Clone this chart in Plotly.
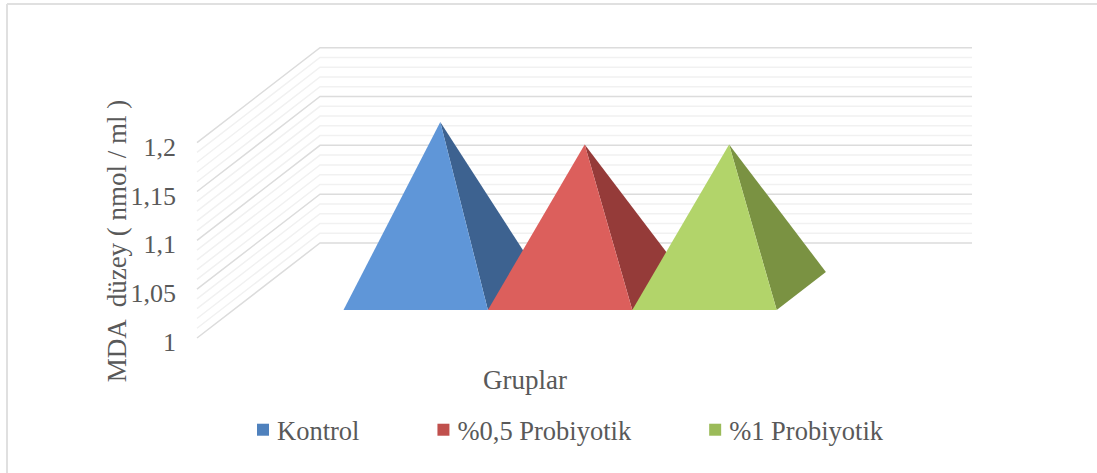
import plotly.graph_objects as go

# ---- data ----
categories = ["Kontrol", "%0,5 Probiyotik", "%1 Probiyotik"]
values = [1.173, 1.15, 1.15]
y_ticks = [1.0, 1.05, 1.1, 1.15, 1.2]
y_tick_labels = ["1", "1,05", "1,1", "1,15", "1,2"]
minor_steps = [1.01, 1.02, 1.03, 1.04, 1.06, 1.07, 1.08, 1.09, 1.11, 1.12, 1.13, 1.14,
               1.16, 1.17, 1.18, 1.19]
front_colors = ["#5f96d8", "#dc5f5c", "#b2d46a"]
side_colors = ["#3d6290", "#953b39", "#7a9242"]
legend_colors = ["#4f81bd", "#c0504d", "#9bbb59"]

# ---- oblique projection, expressed in axis units ----
W, H = 1097, 473
L, R, T, B = 177, 112, 30, 123
PLOT_W, PLOT_H = W - L - R, H - T - B
PX_PER_CAT = 144.4
PX_PER_VAL = 976.5
X0_PX = 307.2
Y1_PX = 338.0
x_range = [(L - X0_PX) / PX_PER_CAT, (W - R - X0_PX) / PX_PER_CAT]
y_range = [1 + (Y1_PX - (H - B)) / PX_PER_VAL, 1 + (Y1_PX - T) / PX_PER_VAL]
DEPTH_X = 123 / PX_PER_CAT
DEPTH_Y = 95 / PX_PER_VAL
WALL_LEFT = (197 - X0_PX) / PX_PER_CAT
WALL_RIGHT = (972 - X0_PX) / PX_PER_CAT
BASE_DEPTH = 0.295
PYR_DEPTH = 0.40


def project(u, v, d):
    return u + d * DEPTH_X, v + d * DEPTH_Y


def gridline(v, color, width):
    a = project(WALL_LEFT, v, 0)
    b = project(WALL_LEFT, v, 1)
    c = project(WALL_RIGHT - DEPTH_X, v, 1)
    return go.Scatter(x=[a[0], b[0], c[0]], y=[a[1], b[1], c[1]], mode="lines",
                      line=dict(color=color, width=width), showlegend=False, hoverinfo="skip")


fig = go.Figure()
for v in minor_steps:
    fig.add_trace(gridline(v, "#f1f1f1", 1.5))
for v in y_ticks:
    fig.add_trace(gridline(v, "#dcdcdc", 1.5))

for i, val in enumerate(values):
    fl = project(i, 1, BASE_DEPTH)
    fr = project(i + 1, 1, BASE_DEPTH)
    br = project(i + 1, 1, BASE_DEPTH + PYR_DEPTH)
    apex = project(i + 0.5, val, BASE_DEPTH + PYR_DEPTH / 2)
    fig.add_trace(go.Scatter(x=[apex[0], fr[0], br[0], apex[0]], y=[apex[1], fr[1], br[1], apex[1]],
                             mode="lines", fill="toself", fillcolor=side_colors[i],
                             line=dict(width=0, color=side_colors[i]), showlegend=False,
                             hoverinfo="skip"))
    fig.add_trace(go.Scatter(x=[fl[0], fr[0], apex[0], fl[0]], y=[fl[1], fr[1], apex[1], fl[1]],
                             mode="lines", fill="toself", fillcolor=front_colors[i],
                             line=dict(width=0, color=front_colors[i]), showlegend=False,
                             name=categories[i]))

pad = ["\u00a0" * 8, "\u00a0" * 8, ""]
for i, c in enumerate(categories):
    fig.add_trace(go.Scatter(x=[None], y=[None], mode="markers", name=c + pad[i],
                             marker=dict(symbol="square", size=12, color=legend_colors[i])))

# Empty trace on a second pair of axes: they carry the two axis titles, which the
# reference centres on the whole chart's inner panel rather than on the wall area.
fig.add_trace(go.Scatter(x=[None], y=[None], xaxis="x2", yaxis="y2", showlegend=False,
                         hoverinfo="skip"))

FONT = "Liberation Serif"
GREY = "#595959"
fig.update_layout(
    width=W, height=H, autosize=False,
    margin=dict(l=L, r=R, t=T, b=B, autoexpand=False),
    paper_bgcolor="white", plot_bgcolor="rgba(0,0,0,0)",
    font=dict(family=FONT, color=GREY, size=26),
    xaxis=dict(range=x_range, showgrid=False, zeroline=False, showticklabels=False, ticks=""),
    yaxis=dict(range=y_range, showgrid=False, zeroline=False, tickmode="array",
               tickvals=y_ticks, ticktext=y_tick_labels, ticks="", ticklabelshift=4,
               tickfont=dict(size=26, family=FONT, color=GREY)),
    xaxis2=dict(domain=[0, 696 / PLOT_W], anchor="y2", showgrid=False, zeroline=False,
                showticklabels=False, ticks="",
                title=dict(text="Gruplar", standoff=20, font=dict(size=27, family=FONT, color=GREY))),
    yaxis2=dict(domain=[0, 218 / PLOT_H], anchor="x2", showgrid=False, zeroline=False,
                showticklabels=False, ticks="",
                title=dict(text="MDA  düzey ( nmol / ml )", standoff=41,
                           font=dict(size=27, family=FONT, color=GREY))),
    legend=dict(orientation="h", x=237 / W, xref="container", xanchor="left",
                y=1 - 430 / H, yref="container", yanchor="middle",
                font=dict(size=26.5, family=FONT, color=GREY), itemwidth=30),
    showlegend=True,
    shapes=[
        dict(type="line", xref="paper", yref="paper", layer="below",
             x0=(7 - L) / PLOT_W, x1=(W - L) / PLOT_W,
             y0=(PLOT_H + T - 4) / PLOT_H, y1=(PLOT_H + T - 4) / PLOT_H,
             line=dict(color="#e0e0e0", width=2)),
        dict(type="line", xref="paper", yref="paper", layer="below",
             x0=(7 - L) / PLOT_W, x1=(7 - L) / PLOT_W,
             y0=(PLOT_H + T - 4) / PLOT_H, y1=-B / PLOT_H,
             line=dict(color="#e0e0e0", width=2)),
    ],
)

post = ("document.body.style.margin='0';"
        "var s=document.createElement('style');"
        "s.textContent='.legendpoints{transform:translateX(6px)}';"
        "document.head.appendChild(s);")
fig.write_html("out.html", post_script=post, config={"displayModeBar": False})
